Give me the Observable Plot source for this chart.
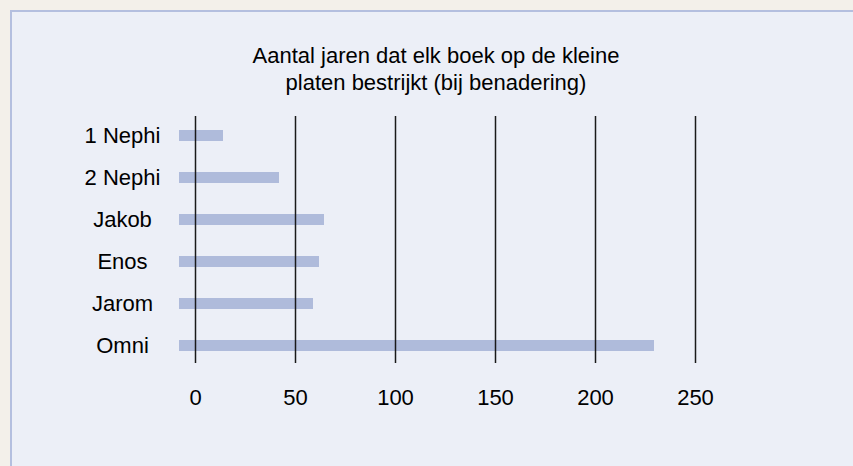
<!DOCTYPE html>
<html>
<head>
<meta charset="utf-8">
<script src="https://cdn.jsdelivr.net/npm/d3@7"></script>
<script src="https://cdn.jsdelivr.net/npm/@observablehq/plot@0.6"></script>
<style>
  html, body { margin: 0; padding: 0; }
  body { width: 853px; height: 466px; background: #f3f0ea; position: relative; overflow: hidden;
         font-family: "Liberation Sans", sans-serif; }
  #panel { position: absolute; left: 10px; top: 10px; width: 900px; height: 500px;
           background: #eceff7; border: 2px solid #b4bfdf; box-sizing: border-box; }
  #title { position: absolute; left: 186px; width: 500px; top: 42px; text-align: center;
           font-size: 22px; line-height: 27px; color: #000; }
  #chart { position: absolute; left: 0; top: 0; }
</style>
</head>
<body>
<div id="panel"></div>
<div id="title">Aantal jaren dat elk boek op de kleine<br>platen bestrijkt (bij benadering)</div>
<div id="chart"></div>
<script>
const books = ["1 Nephi", "2 Nephi", "Jakob", "Enos", "Jarom", "Omni"];
const years = [14, 42, 64.5, 62, 59, 229.5];
const xTicks = [0, 50, 100, 150, 200, 250];

const data = books.map((b, i) => ({book: b, years: years[i]}));

const chart = Plot.plot({
  width: 853,
  height: 466,
  marginTop: 116,
  marginBottom: 103,
  marginLeft: 195,
  marginRight: 158,
  style: {background: "transparent", fontFamily: "'Liberation Sans', sans-serif", overflow: "visible"},
  x: {domain: [0, 250]},
  y: {domain: books, range: [117, 364], paddingInner: 0.74, paddingOuter: 0.28},
  marks: [
    Plot.barX(data, {x: "years", y: "book", fill: "#afbbdb", insetLeft: -16}),
    Plot.ruleX(xTicks, {stroke: "#1a1a1a", strokeWidth: 1.5}),
    Plot.axisX({ticks: xTicks, tickSize: 0, tickPadding: 26, fontSize: 22, fill: "#000", label: null}),
    Plot.axisY({tickSize: 0, tickPadding: 73, textAnchor: "middle", fontSize: 22, fill: "#000", label: null})
  ]
});
document.getElementById("chart").appendChild(chart);
</script>
</body>
</html>
